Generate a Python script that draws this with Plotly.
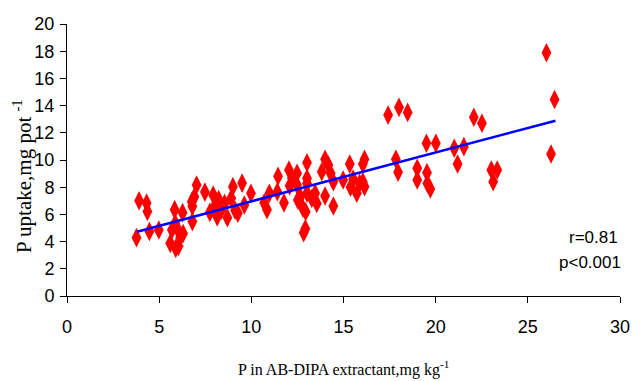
import plotly.graph_objects as go

# P in AB-DIPA extractant (mg kg-1) and P uptake (mg pot-1)
p_extract = [3.77, 3.91, 4.32, 4.36, 4.47, 4.98, 5.6, 5.69, 5.84, 5.87, 5.9, 6.05,
             6.14, 6.3, 6.02, 6.27, 6.8, 6.8, 6.91, 6.77, 7.03, 7.48, 7.93, 8.0,
             7.75, 8.23, 8.15, 8.55, 8.37, 8.7, 9.0, 8.91, 9.12, 9.27, 9.5, 9.62,
             9.98, 10.7, 10.85, 10.98, 11.45, 11.41, 11.77, 12.08, 12.04, 12.21,
             12.48, 12.48, 12.52, 12.66, 12.8, 12.95, 12.93, 12.84, 13.02, 13.02,
             13.02, 13.02, 13.28, 13.46, 13.55, 13.82, 14.0, 14.18, 14.0, 14.3,
             14.45, 14.45, 14.98, 15.34, 15.38, 15.52, 15.72, 15.87, 16.05, 16.14,
             16.05, 16.14, 17.42, 17.84, 17.96, 18.01, 18.48, 19.0, 19.0, 19.5,
             19.53, 19.55, 19.71, 20.01, 21.01, 21.19, 21.53, 22.07, 22.51, 23.02,
             23.34, 23.12, 26.01, 26.45, 26.26]
p_uptake = [4.29, 7.0, 6.83, 6.22, 4.75, 4.85, 3.87, 4.85, 6.35, 5.35, 3.5, 3.65,
            4.3, 4.6, 4.85, 6.13, 5.47, 6.6, 7.3, 6.93, 8.16, 7.64, 7.43, 6.57,
            6.15, 7.1, 5.83, 6.81, 6.32, 5.75, 8.04, 7.18, 6.3, 6.08, 8.3, 6.69,
            7.55, 6.85, 6.35, 7.55, 8.8, 7.67, 6.85, 8.1, 9.26, 8.65,
            9.02, 8.16, 7.06, 7.3, 6.45, 6.2, 4.95, 4.65, 9.8, 8.65,
            8.28, 7.55, 7.18, 7.55, 6.81, 9.14, 10.05, 9.63, 7.35, 9.02,
            8.4, 6.62, 8.53, 9.7, 8.0, 8.6, 7.55, 8.28, 8.4, 10.06,
            9.7, 8.04, 13.3, 10.06, 9.1, 13.87, 13.5, 9.39, 8.53, 11.23,
            9.07, 8.28, 7.87, 11.23, 10.86, 9.71, 10.98, 13.14, 12.7, 9.26,
            9.26, 8.40, 17.89, 14.45, 10.44]

# fitted regression line end points
fit_x = [3.8, 26.5]
fit_y = [4.73, 12.89]

stats_text = ["r=0.81", "p<0.001"]

fig = go.Figure()
fig.add_trace(go.Scatter(
    x=p_extract, y=p_uptake, mode="markers",
    marker=dict(symbol="diamond-tall", size=14, color="#ff0000", line=dict(width=0)),
    showlegend=False, hoverinfo="x+y"))
fig.add_trace(go.Scatter(
    x=fit_x, y=fit_y, mode="lines",
    line=dict(color="#0000ff", width=2.5), showlegend=False))

axis_font = dict(family="Liberation Sans, Arial, sans-serif", size=18, color="black")
fig.update_layout(
    width=642, height=381,
    margin=dict(l=67, r=14, t=24, b=85),
    paper_bgcolor="white", plot_bgcolor="white",
    xaxis=dict(range=[0, 30], dtick=5, tick0=0, showgrid=False, zeroline=False,
               showline=True, linecolor="black", linewidth=1,
               ticks="outside", ticklen=6, tickcolor="black",
               tickfont=axis_font, ticklabelstandoff=8),
    yaxis=dict(range=[0, 20], dtick=2, tick0=0, showgrid=False, zeroline=False,
               showline=True, linecolor="black", linewidth=1,
               ticks="outside", ticklen=6, tickcolor="black",
               tickfont=axis_font, ticklabelstandoff=2),
    annotations=[
        dict(text="P uptake,mg pot <sup>-1</sup>", textangle=-90,
             xref="paper", yref="paper", x=-0.08, y=0.44,
             xanchor="center", yanchor="middle", showarrow=False,
             font=dict(family="Liberation Serif, Times New Roman, serif", size=21, color="black")),
        dict(text="P in AB-DIPA extractant,mg kg<sup>-1</sup>",
             xref="paper", yref="paper", x=0.5, y=-0.265,
             xanchor="center", yanchor="middle", showarrow=False,
             font=dict(family="Liberation Serif, Times New Roman, serif", size=16, color="black")),
        dict(text=stats_text[0], xref="paper", yref="paper", x=1.0, y=0.215,
             xanchor="right", yanchor="middle", showarrow=False,
             font=dict(family="Liberation Sans, Arial, sans-serif", size=17, color="black")),
        dict(text=stats_text[1], xref="paper", yref="paper", x=1.006, y=0.125,
             xanchor="right", yanchor="middle", showarrow=False,
             font=dict(family="Liberation Sans, Arial, sans-serif", size=17, color="black")),
    ],
)
fig.write_html("out.html")
